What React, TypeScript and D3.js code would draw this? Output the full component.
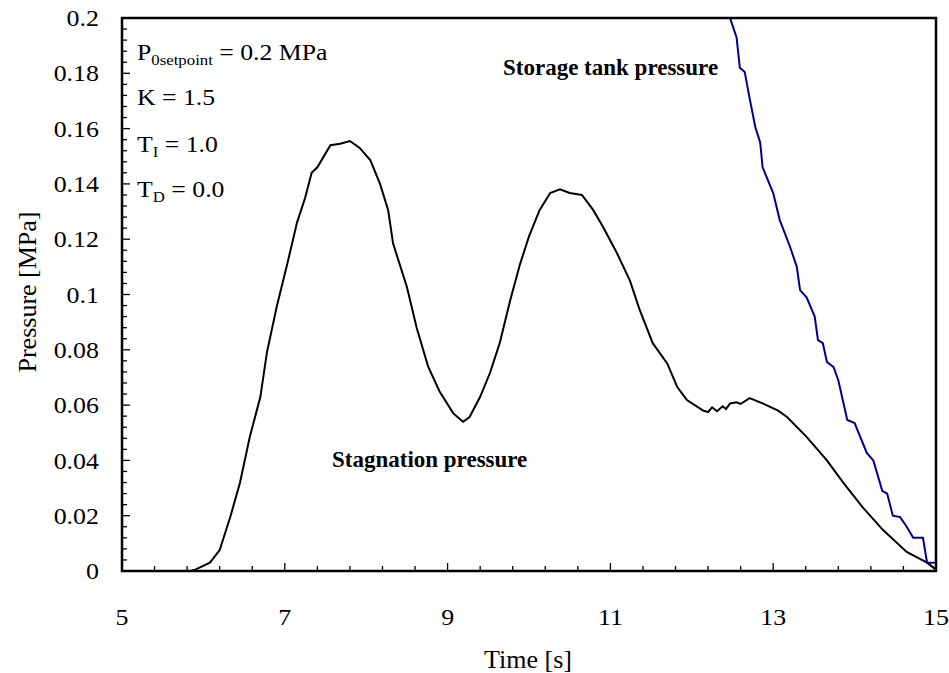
import React, { useEffect, useRef } from 'react';
import * as d3 from 'd3';

// stagnation pressure (black)
const stagTime = [5.84, 5.9, 6.08, 6.2, 6.33, 6.45, 6.57, 6.7, 6.78, 6.9, 7.03, 7.15, 7.25, 7.33, 7.4, 7.56, 7.68, 7.8, 7.92, 8.05, 8.17, 8.27, 8.33, 8.5, 8.62, 8.76, 8.9, 9.07, 9.19, 9.27, 9.4, 9.52, 9.64, 9.77, 9.89, 10.0, 10.13, 10.26, 10.38, 10.5, 10.65, 10.79, 10.91, 11.08, 11.24, 11.36, 11.52, 11.7, 11.82, 11.94, 12.14, 12.2, 12.25, 12.31, 12.38, 12.42, 12.47, 12.55, 12.6, 12.71, 12.87, 13.06, 13.17, 13.41, 13.66, 13.86, 14.1, 14.35, 14.64, 14.89, 15.0];
const stagPressure = [0, 0.0005, 0.003, 0.0076, 0.0195, 0.032, 0.0485, 0.063, 0.079, 0.0955, 0.111, 0.126, 0.135, 0.144, 0.146, 0.154, 0.1545, 0.1555, 0.153, 0.1486, 0.14, 0.1305, 0.1185, 0.1027, 0.088, 0.074, 0.065, 0.057, 0.054, 0.0557, 0.063, 0.0716, 0.0824, 0.098, 0.111, 0.121, 0.1305, 0.1367, 0.138, 0.1367, 0.136, 0.1305, 0.1244, 0.115, 0.105, 0.0944, 0.0824, 0.075, 0.0666, 0.0618, 0.058, 0.0575, 0.0592, 0.0578, 0.0596, 0.0586, 0.0606, 0.061, 0.0604, 0.0625, 0.0606, 0.058, 0.0557, 0.0485, 0.04, 0.032, 0.023, 0.0148, 0.0069, 0.003, 0.0005];

// storage tank pressure (blue)
const tankTime = [12.42, 12.47, 12.55, 12.59, 12.65, 12.71, 12.78, 12.84, 12.87, 13.0, 13.08, 13.21, 13.29, 13.33, 13.41, 13.51, 13.55, 13.61, 13.66, 13.74, 13.8, 13.91, 14.0, 14.15, 14.23, 14.34, 14.4, 14.47, 14.56, 14.64, 14.72, 14.84, 14.89, 15.0];
const tankPressure = [0.215, 0.2, 0.193, 0.182, 0.1805, 0.171, 0.1606, 0.155, 0.146, 0.1367, 0.127, 0.117, 0.11, 0.1016, 0.099, 0.092, 0.0835, 0.0824, 0.0756, 0.0738, 0.069, 0.0546, 0.0535, 0.0427, 0.04, 0.029, 0.028, 0.02, 0.0195, 0.016, 0.012, 0.012, 0.003, 0.003];

const xTickLabels = [5, 7, 9, 11, 13, 15];
const yTickLabels = [0, 0.02, 0.04, 0.06, 0.08, 0.1, 0.12, 0.14, 0.16, 0.18, 0.2];

const App = () => {
    const svgRef = useRef<SVGSVGElement>(null);

    useEffect(() => {
        if (!svgRef.current) return;
        const svg = d3.select(svgRef.current);
        svg.selectAll('*').remove();

        const left = 122, right = 936, top = 18, bottom = 571;
        const font = '"Liberation Serif", "Times New Roman", serif';

        const x = d3.scaleLinear().domain([5, 15]).range([left, right]);
        const y = d3.scaleLinear().domain([0, 0.2]).range([bottom, top]);

        const text = (tx: number, ty: number, str: string, size: number, anchor = 'start', weight = 'normal', base = 'auto', stretch = 1.07) =>
            svg.append('text')
                .attr('transform', `translate(${tx},${ty}) scale(${stretch},1)`)
                .attr('font-family', font)
                .attr('font-size', size)
                .attr('font-weight', weight)
                .attr('text-anchor', anchor)
                .attr('dominant-baseline', base)
                .attr('fill', '#000')
                .text(str);

        svg.append('clipPath').attr('id', 'plot-clip')
            .append('rect').attr('x', left).attr('y', top).attr('width', right - left).attr('height', bottom - top);

        // ticks (inside)
        d3.range(5, 15.001, 0.4).forEach(t => {
            const major = Math.abs((t - 5) % 2) < 0.01 || Math.abs((t - 5) % 2 - 2) < 0.01;
            svg.append('line')
                .attr('x1', x(t)).attr('x2', x(t))
                .attr('y1', bottom).attr('y2', bottom - (major ? 8 : 5))
                .attr('stroke', '#000').attr('stroke-width', 1.3);
        });
        d3.range(0, 0.2001, 0.004).forEach(v => {
            const major = Math.abs(Math.round(v / 0.02) * 0.02 - v) < 1e-6;
            svg.append('line')
                .attr('x1', left).attr('x2', left + (major ? 8 : 5))
                .attr('y1', y(v)).attr('y2', y(v))
                .attr('stroke', '#000').attr('stroke-width', 1.3);
        });

        const line = d3.line<[number, number]>().x(d => x(d[0])).y(d => y(d[1]));

        svg.append('path')
            .datum(stagTime.map((t, i) => [t, stagPressure[i]] as [number, number]))
            .attr('fill', 'none').attr('stroke', '#000').attr('stroke-width', 2)
            .attr('clip-path', 'url(#plot-clip)')
            .attr('d', line);

        svg.append('path')
            .datum(tankTime.map((t, i) => [t, tankPressure[i]] as [number, number]))
            .attr('fill', 'none').attr('stroke', '#00008b').attr('stroke-width', 2)
            .attr('clip-path', 'url(#plot-clip)')
            .attr('d', line);

        // frame
        svg.append('rect')
            .attr('x', left).attr('y', top).attr('width', right - left).attr('height', bottom - top)
            .attr('fill', 'none').attr('stroke', '#000').attr('stroke-width', 2.5);

        // tick labels
        xTickLabels.forEach(t => text(x(t), 617, String(t), 24, 'middle', 'normal', 'central', 1.08));
        yTickLabels.forEach(v => text(99, y(v), String(v), 24, 'end', 'normal', 'central', 1.08));

        // axis titles
        text(528, 659, 'Time [s]', 26, 'middle', 'normal', 'central', 1.0);
        svg.append('text')
            .attr('transform', 'translate(27,292) rotate(-90)')
            .attr('font-family', font).attr('font-size', 26)
            .attr('text-anchor', 'middle').attr('dominant-baseline', 'central')
            .text('Pressure [MPa]');

        // parameter block
        const sub = (ty: number, main: string, subText: string, rest: string) => {
            const t = svg.append('text')
                .attr('transform', `translate(137,${ty}) scale(1.12,1)`)
                .attr('font-family', font).attr('font-size', 23);
            t.append('tspan').text(main);
            t.append('tspan').attr('font-size', 15).attr('dy', 5).text(subText);
            t.append('tspan').attr('dy', -5).text(rest);
        };
        sub(60, 'P', '0setpoint', ' = 0.2 MPa');
        text(137, 105, 'K = 1.5', 23, 'start', 'normal', 'auto', 1.12);
        sub(152, 'T', 'I', ' = 1.0');
        sub(197, 'T', 'D', ' = 0.0');

        // series labels
        text(503, 75, 'Storage tank pressure', 23, 'start', 'bold', 'auto', 1.0);
        text(332, 467, 'Stagnation pressure', 23, 'start', 'bold', 'auto', 1.0);
    }, []);

    return (
        <svg
            ref={svgRef}
            width={949}
            height={673}
            style={{ position: 'absolute', left: 0, top: 0, background: '#fff' }}
        />
    );
};

export default App;
